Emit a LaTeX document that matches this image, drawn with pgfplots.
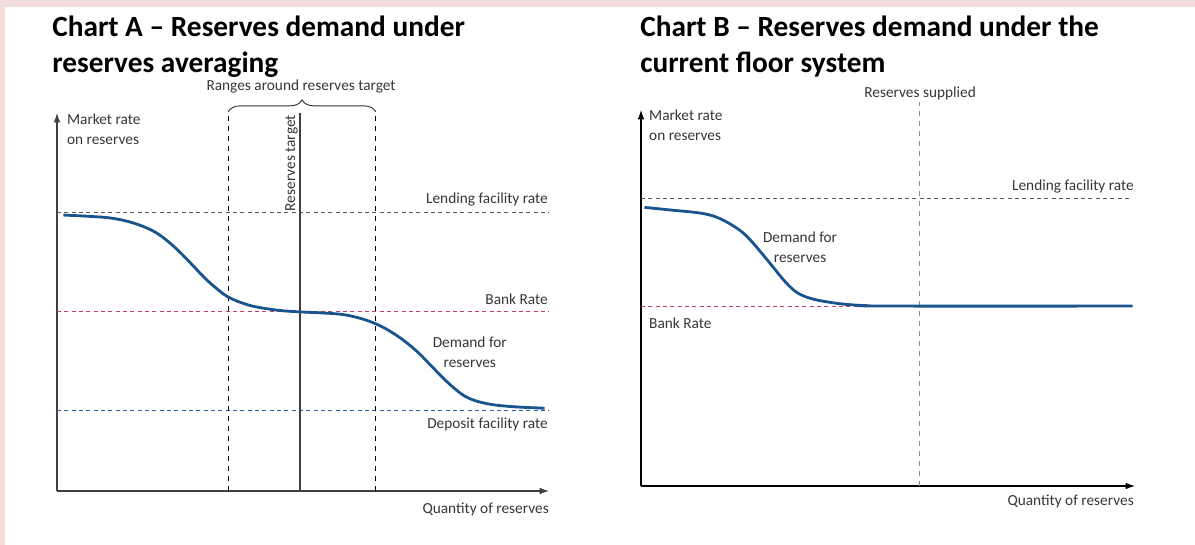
\documentclass[border=0pt]{standalone}
\usepackage{pgfplots}
\pgfplotsset{compat=1.18}
\usetikzlibrary{arrows.meta,decorations.pathreplacing}
\usepackage{fontspec}
\setmainfont{Carlito}
\definecolor{pinkbg}{RGB}{242,220,220}
\definecolor{curve}{RGB}{26,84,142}
\definecolor{bankred}{RGB}{196,64,100}
\definecolor{depblue}{RGB}{40,100,165}
\definecolor{lab}{RGB}{55,55,55}
\newcommand\lf{\fontsize{11.5pt}{15pt}\selectfont\color{lab}}
\pgfplotsset{
  diag/.style={
    scale only axis, anchor=south west, clip=false,
    xmin=0, xmax=100, ymin=0, ymax=100,
    axis x line=bottom, axis y line=left,
    xtick=\empty, ytick=\empty,
    every outer x axis line/.append style={-{Latex[length=7pt,width=5pt]}},
    every outer y axis line/.append style={-{Latex[length=7pt,width=5pt]}},
    every inner x axis line/.append style={-{Latex[length=7pt,width=5pt]}},
    every inner y axis line/.append style={-{Latex[length=7pt,width=5pt]}},
  },
}
\pgfplotstableread{
x y
1.3 73.0
6 72.7
11 72.2
15 71.1
18.4 69.5
21 67.6
24 64.4
27 60.5
30 56.4
32.5 53.5
34.7 51.4
37.5 49.8
40.5 48.7
45 47.8
49.2 47.4
54 47.1
58 46.7
61 45.9
63.5 44.9
66 43.5
68.5 41.6
71 39.3
73.6 36.4
76 33.2
78.7 29.6
81 26.9
83 25.0
85 23.9
87.4 23.1
90 22.6
94 22.2
99.1 21.9
}\curveA
\pgfplotstableread{
x y
0.7 74.1
6 73.4
12.4 72.5
16 71.1
19.7 68.3
22 65.6
24.5 61.8
27 57.8
29 54.6
31 52.0
33 50.5
35.5 49.5
38.5 48.8
41.6 48.3
46 47.95
52 47.85
99.5 47.85
}\curveB
\begin{document}
\begin{tikzpicture}
\begin{scope}[x=0.75pt,y=-0.75pt]
\fill[white] (0,0) rectangle (1195,545);
\fill[pinkbg] (0,0) rectangle (1195,7);
\fill[pinkbg] (0,0) rectangle (5,545);
\node[anchor=base west,inner sep=0pt,font=\fontsize{22pt}{25pt}\selectfont\bfseries] at (52,37) {Chart A – Reserves demand under};
\node[anchor=base west,inner sep=0pt,font=\fontsize{22pt}{25pt}\selectfont\bfseries] at (52,73) {reserves averaging};
\node[anchor=base west,inner sep=0pt,font=\fontsize{22pt}{25pt}\selectfont\bfseries] at (640,37) {Chart B – Reserves demand under the};
\node[anchor=base west,inner sep=0pt,font=\fontsize{22pt}{25pt}\selectfont\bfseries] at (640,73) {current floor system};
\end{scope}
% Chart A
\begin{axis}[diag, at={(42.75pt,-368.25pt)}, width=369pt, height=283.5pt,
  axis line style={line width=0.9pt, black!75}]
\addplot[black!65, line width=0.7pt, dash pattern=on 3pt off 2.5pt] coordinates {(0,73.8) (100,73.8)};
\addplot[bankred, line width=0.7pt, dash pattern=on 3pt off 2.5pt] coordinates {(0,47.6) (100,47.6)};
\addplot[depblue, line width=0.7pt, dash pattern=on 3pt off 2.5pt] coordinates {(0,21.2) (100,21.2)};
\addplot[black, line width=0.8pt, dash pattern=on 3.75pt off 3.75pt] coordinates {(34.8,0) (34.8,100)};
\addplot[black, line width=0.8pt, dash pattern=on 3.75pt off 3.75pt] coordinates {(64.8,0) (64.8,100)};
\addplot[black!75, line width=1.1pt] coordinates {(49.4,0) (49.4,100)};
\addplot[curve, line width=2.1pt, smooth, tension=0.6] table {\curveA};
\draw[decorate, decoration={brace, amplitude=9pt}, black!80, line width=0.7pt] (axis cs:34.8,100.3) -- (axis cs:64.8,100.3);
\node[font=\lf, anchor=center] at (axis cs:49.6,106.9) {Ranges around reserves target};
\node[font=\lf, rotate=90, anchor=south east, inner sep=1.5pt] at (axis cs:49.4,100) {Reserves target};
\node[font=\lf, anchor=west, align=left, inner sep=0pt] at (axis cs:2,95.8) {Market rate\\on reserves};
\node[font=\lf, anchor=east, inner sep=0pt] at (axis cs:99.8,77.2) {Lending facility rate};
\node[font=\lf, anchor=east, inner sep=0pt] at (axis cs:99.8,50.8) {Bank Rate};
\node[font=\lf, anchor=center, align=center, inner sep=0pt] at (axis cs:83.9,36.8) {Demand for\\reserves};
\node[font=\lf, anchor=east, inner sep=0pt] at (axis cs:99.8,17.7) {Deposit facility rate};
\node[font=\lf, anchor=east, inner sep=0pt] at (axis cs:100,-4.8) {Quantity of reserves};
\end{axis}
% Chart B
\begin{axis}[diag, at={(480.75pt,-364.5pt)}, width=370.5pt, height=282pt,
  axis line style={line width=0.8pt, black}]
\addplot[black!65, line width=0.7pt, dash pattern=on 3pt off 2.5pt] coordinates {(0,76.6) (99,76.6)};
\addplot[bankred, line width=0.7pt, dash pattern=on 3pt off 2.5pt] coordinates {(0,47.85) (99,47.85)};
\addplot[black!45, line width=0.7pt, dash pattern=on 3.75pt off 3.75pt] coordinates {(56.3,0) (56.3,102)};
\addplot[curve, line width=2.1pt, smooth, tension=0.6] table {\curveB};
\node[font=\lf, anchor=center] at (axis cs:56.5,104.5) {Reserves supplied};
\node[font=\lf, anchor=west, align=left, inner sep=0pt] at (axis cs:1.6,95.9) {Market rate\\on reserves};
\node[font=\lf, anchor=east, inner sep=0pt] at (axis cs:99.8,79.6) {Lending facility rate};
\node[font=\lf, anchor=center, align=center, inner sep=0pt] at (axis cs:32.2,63.4) {Demand for\\reserves};
\node[font=\lf, anchor=west, inner sep=0pt] at (axis cs:1.6,43.4) {Bank Rate};
\node[font=\lf, anchor=east, inner sep=0pt] at (axis cs:99.8,-4.0) {Quantity of reserves};
\end{axis}
\end{tikzpicture}
\end{document}
